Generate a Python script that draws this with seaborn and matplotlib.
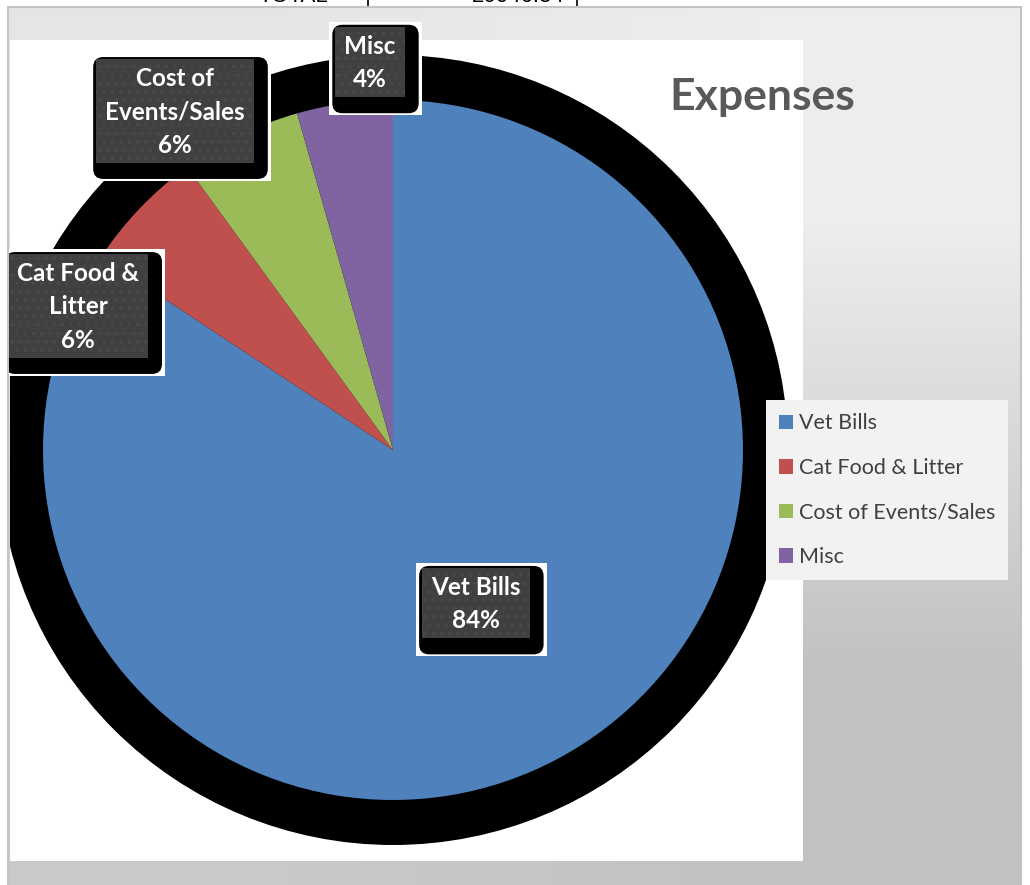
import numpy as np
import matplotlib
matplotlib.use("Agg")
import matplotlib.pyplot as plt
from matplotlib.patches import Rectangle, Circle, FancyBboxPatch
import seaborn as sns

# -----------------------------
# Data
# -----------------------------
CATEGORIES = ["Vet Bills", "Cat Food & Litter", "Cost of Events/Sales", "Misc"]
LABEL_TEXT = ["Vet Bills", "Cat Food &\nLitter", "Cost of\nEvents/Sales", "Misc"]
AMOUNTS = [16899.07, 1141.12, 1120.55, 885.60]
TOTAL_LABEL = "TOTAL"
TOTAL_VALUE = "20046.34"

# -----------------------------
# Style / layout (pixel coords, y measured from top)
# -----------------------------
sns.set_theme(style="white")
plt.rcParams["font.family"] = ["Lato", "DejaVu Sans"]
COLORS = sns.color_palette(["#4F81BD", "#C0504D", "#9BBB59", "#8064A2"])

W, H = 1030, 885
PIE_CENTER = (393, 450)
PIE_R = 350
RING_R = 395
PLOT_AREA = (10, 40, 803, 861)          # x0, y0, x1, y1
CHART_AREA = (8, 7, 1021, 890)
# label centres for labels moved outside the pie (None = inside at 0.5 r)
LABEL_POS = [None, (78, 307), (175, 112), (370, 63)]


def Y(py):
    return H - py


fig = plt.figure(figsize=(W / 100, H / 100), dpi=100)
ax = fig.add_axes([0, 0, 1, 1])

# spreadsheet strip peeking above the chart
ax.text(293, Y(2), TOTAL_LABEL, ha="center", va="baseline", fontsize=16,
        color="black", family=["Liberation Sans"], zorder=0)
ax.text(565, Y(2), TOTAL_VALUE, ha="right", va="baseline", fontsize=16,
        color="black", family=["Liberation Sans"], zorder=0)
ax.plot([368, 368, 577, 577], [Y(-5), Y(7), Y(7), Y(-5)], color="black", lw=1.2, zorder=0)

# chart background gradient
cx0, cy0, cx1, cy1 = CHART_AREA
grad = np.array([[0.90, 0.93], [0.79, 0.76]])
ax.imshow(np.dstack([grad] * 3), extent=(cx0, cx1, Y(cy1), Y(cy0)),
          interpolation="bilinear", zorder=1, aspect="auto")
ax.add_patch(Rectangle((cx0, Y(cy1)), cx1 - cx0, cy1 - cy0, fill=False,
                       edgecolor="#c4c4c4", lw=1.5, zorder=2))

# plot area
px0, py0, px1, py1 = PLOT_AREA
plot_rect = Rectangle((px0, Y(py1)), px1 - px0, py1 - py0, facecolor="white",
                      edgecolor="none", zorder=2)
ax.add_patch(plot_rect)

# black "shadow" ring behind the pie
ring = Circle((PIE_CENTER[0], Y(PIE_CENTER[1])), RING_R, facecolor="black",
              edgecolor="none", zorder=3)
ax.add_patch(ring)
ring.set_clip_path(plot_rect)

wedges, _, autotexts = ax.pie(
    AMOUNTS,
    colors=COLORS,
    startangle=90,
    counterclock=False,
    radius=PIE_R,
    center=(PIE_CENTER[0], Y(PIE_CENTER[1])),
    autopct=lambda p: f"{p:.0f}%",
    pctdistance=0.5,
    wedgeprops=dict(linewidth=0, zorder=4),
    textprops=dict(color="white", fontsize=17.5, fontweight="bold",
                   ha="center", va="center", linespacing=1.55),
)

for t, name, pos in zip(autotexts, LABEL_TEXT, LABEL_POS):
    t.set_text(f"{name}\n{t.get_text()}")
    if pos is not None:
        t.set_position((pos[0], Y(pos[1])))
    t.set_zorder(9)

ax.set_xlim(0, W)
ax.set_ylim(0, H)
ax.set_aspect("auto")
ax.axis("off")

# label boxes sized from the rendered text
fig.canvas.draw()
renderer = fig.canvas.get_renderer()
inv = ax.transData.inverted()
clip_area = Rectangle((cx0 + 1, 0), W, H, transform=ax.transData)
for t in autotexts:
    bb = t.get_window_extent(renderer).transformed(inv)
    dx0, dx1 = bb.x0 - 9, bb.x1 + 9
    dy0, dy1 = bb.y0 - 6, bb.y1 + 8
    white = Rectangle((dx0 - 6, dy0 - 18), (dx1 - dx0) + 23, (dy1 - dy0) + 23,
                      facecolor="white", edgecolor="none", zorder=6)
    shadow = FancyBboxPatch((dx0 - 1, dy0 - 14), (dx1 - dx0) + 13, (dy1 - dy0) + 14,
                            boxstyle="round,pad=2,rounding_size=10",
                            facecolor="black", edgecolor="none", zorder=7)
    dark = Rectangle((dx0, dy0), dx1 - dx0, dy1 - dy0, facecolor="#404040",
                     edgecolor="#4a4a4a", hatch="..", lw=0, zorder=8)
    for p in (white, shadow, dark):
        ax.add_patch(p)
        p.set_clip_path(clip_area)

# title
ax.text(762, Y(97), "Expenses", ha="center", va="center", fontsize=32,
        fontweight="bold", color="#595959", zorder=9)

# legend
leg = ax.legend(
    wedges, CATEGORIES,
    loc="upper left",
    bbox_to_anchor=(766, Y(400)),
    bbox_transform=ax.transData,
    borderaxespad=0,
    frameon=True,
    fancybox=False,
    facecolor="#f2f2f2",
    edgecolor="none",
    framealpha=1,
    fontsize=15.5,
    handlelength=0.65,
    handleheight=0.65,
    handletextpad=0.25,
    labelspacing=1.14,
    borderpad=0.62,
    labelcolor="#404040",
)
leg.set_zorder(9)

fig.savefig("out.png", dpi=100)
